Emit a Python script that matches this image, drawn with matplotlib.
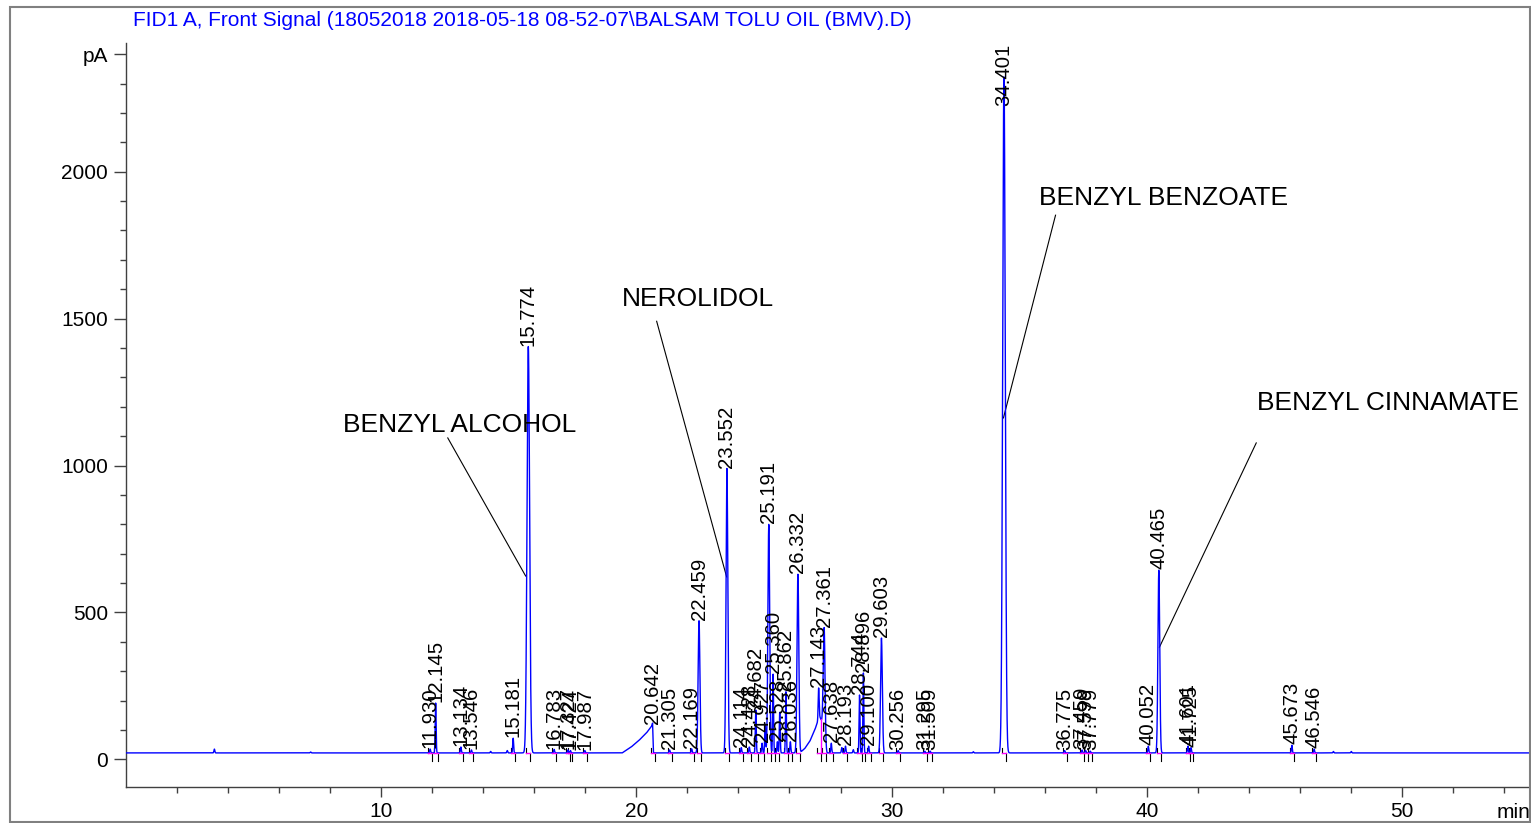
import numpy as np
import matplotlib
matplotlib.use("Agg")
import matplotlib.pyplot as plt
from matplotlib.patches import Rectangle

plt.rcParams['font.family'] = ['Liberation Sans', 'DejaVu Sans']

# peak table (retention time in min, apex in pA)
peak_times = [11.930, 12.145, 13.134, 13.546, 15.181, 15.774, 16.783, 17.327,
              17.424, 17.987, 20.642, 21.305, 22.169, 22.459, 23.552, 24.114,
              24.428, 24.682, 24.927, 25.191, 25.360, 25.528, 25.862, 26.036,
              26.332, 27.143, 27.361, 27.638, 28.193, 28.744, 28.896, 29.100,
              29.603, 30.256, 31.295, 31.509, 34.401, 36.775, 37.459, 37.599,
              37.779, 40.052, 40.465, 41.601, 41.725, 45.673, 46.546]
peak_heights = [35, 192, 42, 32, 72, 1405, 34, 32,
                30, 30, 117, 32, 36, 472, 990, 40,
                42, 168, 55, 800, 290, 60, 230, 60,
                630, 243, 447, 55, 45, 219, 294, 45,
                413, 30, 28, 28, 2323, 30, 32, 30,
                28, 45, 644, 45, 40, 48, 35]

# small unlabelled bumps
minor_times = [3.48, 7.25, 14.3, 14.95, 25.05, 25.62, 28.05, 28.5, 33.2, 47.3, 48.0]
minor_heights = [35, 25, 27, 30, 120, 160, 40, 33, 26, 27, 27]

# broad fronting humps (20.6 and 26.4-27.4 min), pA above baseline
hump_t = [19.45, 19.8, 20.1, 20.4, 20.64, 20.67, 26.40, 26.60, 26.80, 27.00, 27.18, 27.30, 27.40]
hump_v = [0, 20, 42, 68, 95, 0, 0, 15, 40, 80, 125, 100, 0]

baseline = 22

compounds = ["BENZYL ALCOHOL", "NEROLIDOL", "BENZYL BENZOATE", "BENZYL CINNAMATE"]
# text position (min, pA), leader start, leader end
compound_text = [(8.51, 1138), (19.43, 1567), (35.79, 1910), (44.32, 1213)]
leader_from = [(12.62, 1094), (20.80, 1491), (36.42, 1852), (44.28, 1077)]
leader_to = [(15.67, 624), (23.54, 621), (34.38, 1162), (40.49, 382)]

title = "FID1 A, Front Signal (18052018 2018-05-18 08-52-07\\BALSAM TOLU OIL (BMV).D)"

# build the trace
t = np.arange(0, 55.0, 0.002)
hump = np.interp(t, hump_t, hump_v)
sig = baseline + hump
for pt, ph in zip(peak_times, peak_heights):
    s = 0.05 if ph > 1000 else (0.035 if ph > 300 else 0.018)
    amp = ph - baseline - np.interp(pt, hump_t, hump_v)
    sig = sig + max(amp, 0) * np.exp(-0.5 * ((t - pt) / s) ** 2)
for pt, ph in zip(minor_times, minor_heights):
    sig = sig + (ph - baseline) * np.exp(-0.5 * ((t - pt) / 0.018) ** 2)

W, H = 1531, 823
fig = plt.figure(figsize=(W / 100, H / 100), dpi=100)
ax = fig.add_axes([125.5 / W, (H - 787) / H, (1530 - 125.5) / W, (787 - 43.3) / H])

ax.plot(t, sig, color='#0000FF', lw=1.0, zorder=3)

# integration baselines and start/end marks
for pt, ph in zip(peak_times, peak_heights):
    ax.plot([pt - 0.08, pt + 0.08], [baseline, baseline], color='#FF00FF', lw=1.0, zorder=4)
    ax.plot([pt - 0.08, pt - 0.08], [baseline, baseline + 18], color='black', lw=0.8, zorder=2)
    ax.plot([pt + 0.08, pt + 0.08], [baseline, baseline - 27], color='black', lw=0.8, zorder=2)
drop_t = 27.22
ax.plot([drop_t, drop_t], [baseline, np.interp(drop_t, t, sig)], color='#FF00FF', lw=1.0, zorder=4)

# retention time labels
for pt, ph in zip(peak_times, peak_heights):
    ax.text(pt, min(ph + 3, 2225), f"{pt:.3f}", rotation=90, ha='center', va='bottom',
            fontsize=14.7, color='black', zorder=5)

# compound names with leader lines
for name, (tx, ty), (x0, y0), (x1, y1) in zip(compounds, compound_text, leader_from, leader_to):
    ax.text(tx, ty, name, fontsize=19, ha='left', va='center', color='black')
    ax.plot([x0, x1], [y0, y1], color='black', lw=0.8)

ax.set_xlim(0, 55)
ax.set_ylim(-94, 2437)

ax.set_xticks([10, 20, 30, 40, 50])
ax.set_xticks(np.arange(2, 55, 2), minor=True)
ax.set_yticks([0, 500, 1000, 1500, 2000, 2400])
ax.set_yticklabels(['0', '500', '1000', '1500', '2000', 'pA'])
ax.set_yticks(np.arange(100, 2400, 100), minor=True)

ax.tick_params(axis='x', which='major', length=7, width=1, pad=4, labelsize=15, color='#404040')
ax.tick_params(axis='x', which='minor', length=4.1, width=1, color='#404040')
ax.tick_params(axis='y', which='major', length=8.6, width=1, pad=4, labelsize=15, color='#404040')
ax.tick_params(axis='y', which='minor', length=4.3, width=1, color='#404040')

for side in ['top', 'right']:
    ax.spines[side].set_visible(False)
for side in ['left', 'bottom']:
    ax.spines[side].set_color('#404040')
    ax.spines[side].set_linewidth(1.0)

ax.text(1.0, -(818 - 787) / (787 - 43.3), "min", transform=ax.transAxes,
        ha='right', va='baseline', fontsize=15)

fig.text(133 / W, 1 - 20 / H, title, color='#0000FF', fontsize=15, ha='left', va='center')

fig.patches.append(Rectangle((9.5 / W, 1 / H), (1530 - 9.5) / W, (822 - 6.7) / H,
                             transform=fig.transFigure, fill=False,
                             edgecolor='#808080', lw=1.5))

fig.savefig("out.png", dpi=100)
